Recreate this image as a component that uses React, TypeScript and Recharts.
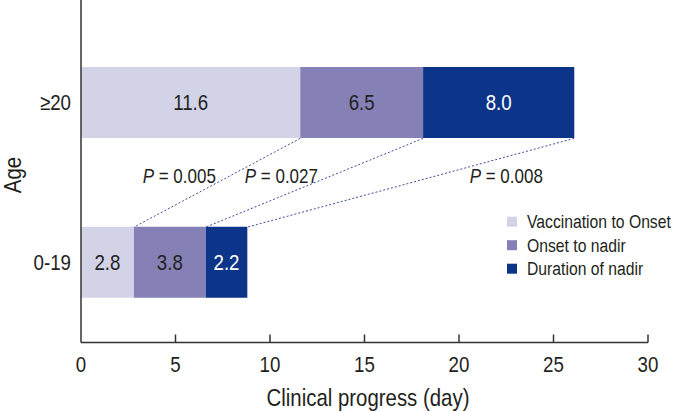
import React from 'react';
import { BarChart, Bar, XAxis, YAxis, ReferenceLine, LabelList } from 'recharts';

const ageGroups = ['≥20', '0-19'];
const vaccinationToOnset = [11.6, 2.8];
const onsetToNadir = [6.5, 3.8];
const durationOfNadir = [8.0, 2.2];
const seriesNames = ['Vaccination to Onset', 'Onset to nadir', 'Duration of nadir'];
const xTicks = [0, 5, 10, 15, 20, 25, 30];
const pValues = ['0.005', '0.027', '0.008'];
const pValueX = [5.2, 10.6, 22.5];

const COLORS = ['#d3d3e8', '#8581b6', '#0c358a'];
const TEXT = '#231f20';
const AXIS = '#333333';
const DASH = '#3d4f9c';
const FONT = "'Liberation Sans', Arial, Helvetica, sans-serif";
const SX = 0.85;
const BAR_SIZE = 71;

const data = ageGroups.map((age, i) => ({
  age,
  v2o: vaccinationToOnset[i],
  o2n: onsetToNadir[i],
  dur: durationOfNadir[i],
}));

const cumulative = (i: number) => [
  vaccinationToOnset[i],
  vaccinationToOnset[i] + onsetToNadir[i],
  vaccinationToOnset[i] + onsetToNadir[i] + durationOfNadir[i],
];
const topEdges = cumulative(0);
const bottomEdges = cumulative(1);

const CText = (props: any) => {
  const { x, y, size, anchor = 'middle', fill = TEXT, rotate = 0, children } = props;
  return (
    <text
      transform={`translate(${x} ${y}) rotate(${rotate}) scale(${SX} 1)`}
      x={0}
      y={0}
      textAnchor={anchor}
      fontSize={size}
      fill={fill}
      fontFamily={FONT}
    >
      {children}
    </text>
  );
};

const XTick = (props: any) => {
  const { x, y, payload } = props;
  return (
    <g>
      {payload.value !== 0 && (
        <line x1={x} y1={y} x2={x} y2={y - 8} stroke={AXIS} strokeWidth={1.5} />
      )}
      <CText x={x} y={y + 29} size={22}>
        {payload.value}
      </CText>
    </g>
  );
};

const YTick = (props: any) => {
  const { x, y, payload } = props;
  return (
    <CText x={x - 10} y={y + 7.5} size={22} anchor="end">
      {payload.value}
    </CText>
  );
};

const Connector = (props: any) => {
  const { x1, y1, x2, y2 } = props;
  return (
    <line
      x1={x1}
      y1={y1 + BAR_SIZE / 2}
      x2={x2}
      y2={y2 - BAR_SIZE / 2}
      stroke={DASH}
      strokeWidth={1}
      strokeDasharray="2 2"
    />
  );
};

const makePLabel = (p: string) => (props: any) => {
  const { x1, y1, y2 } = props;
  return (
    <CText x={x1} y={(y1 + y2) / 2} size={20}>
      <tspan fontStyle="italic">P</tspan>
      <tspan> = {p}</tspan>
    </CText>
  );
};

const makeBarLabel = (fill: string) => (props: any) => {
  const { x, y, width, height, value } = props;
  return (
    <CText x={x + width / 2} y={y + height / 2 + 7.5} size={22} fill={fill}>
      {Number(value).toFixed(1)}
    </CText>
  );
};

export default function App() {
  return (
    <div style={{ position: 'absolute', left: 0, top: 0, width: 673, height: 412, fontFamily: FONT }}>
      <BarChart
        width={673}
        height={412}
        data={data}
        layout="vertical"
        margin={{ top: 0, right: 25, bottom: 0, left: 0 }}
        style={{ fontFamily: FONT }}
      >
        <XAxis
          type="number"
          domain={[0, 30]}
          ticks={xTicks}
          height={69.5}
          tickSize={0}
          tickMargin={0}
          tickLine={false}
          tick={<XTick />}
          axisLine={{ stroke: AXIS, strokeWidth: 1.5 }}
          label={{
            content: () => (
              <CText x={368} y={406} size={24}>
                Clinical progress (day)
              </CText>
            ),
          }}
        />
        <YAxis
          type="category"
          dataKey="age"
          width={81}
          padding={{ top: 23, bottom: 0 }}
          tickSize={0}
          tickMargin={0}
          tickLine={false}
          tick={<YTick />}
          axisLine={{ stroke: AXIS, strokeWidth: 1.5 }}
          label={{
            content: () => (
              <CText x={21} y={175} size={24} rotate={-90}>
                Age
              </CText>
            ),
          }}
        />
        <Bar dataKey="v2o" stackId="a" fill={COLORS[0]} barSize={BAR_SIZE} isAnimationActive={false}>
          <LabelList dataKey="v2o" content={makeBarLabel(TEXT)} />
        </Bar>
        <Bar dataKey="o2n" stackId="a" fill={COLORS[1]} barSize={BAR_SIZE} isAnimationActive={false}>
          <LabelList dataKey="o2n" content={makeBarLabel(TEXT)} />
        </Bar>
        <Bar dataKey="dur" stackId="a" fill={COLORS[2]} barSize={BAR_SIZE} isAnimationActive={false}>
          <LabelList dataKey="dur" content={makeBarLabel('#ffffff')} />
        </Bar>
        {topEdges.map((t, i) => (
          <ReferenceLine
            key={`c${i}`}
            segment={[
              { x: t, y: ageGroups[0] },
              { x: bottomEdges[i], y: ageGroups[1] },
            ]}
            shape={Connector}
            ifOverflow="visible"
          />
        ))}
        {pValues.map((p, i) => (
          <ReferenceLine
            key={`p${i}`}
            segment={[
              { x: pValueX[i], y: ageGroups[0] },
              { x: pValueX[i], y: ageGroups[1] },
            ]}
            shape={makePLabel(p)}
            ifOverflow="visible"
          />
        ))}
      </BarChart>
      <svg
        width={170}
        height={80}
        style={{ position: 'absolute', left: 500, top: 205, overflow: 'visible' }}
      >
        {seriesNames.map((name, i) => {
          const cy = 16.7 + i * 23.5;
          return (
            <g key={name}>
              <rect x={7} y={cy - 5} width={10} height={10} fill={COLORS[i]} />
              <CText x={27} y={cy + 6.5} size={18.5} anchor="start">
                {name}
              </CText>
            </g>
          );
        })}
      </svg>
    </div>
  );
}
